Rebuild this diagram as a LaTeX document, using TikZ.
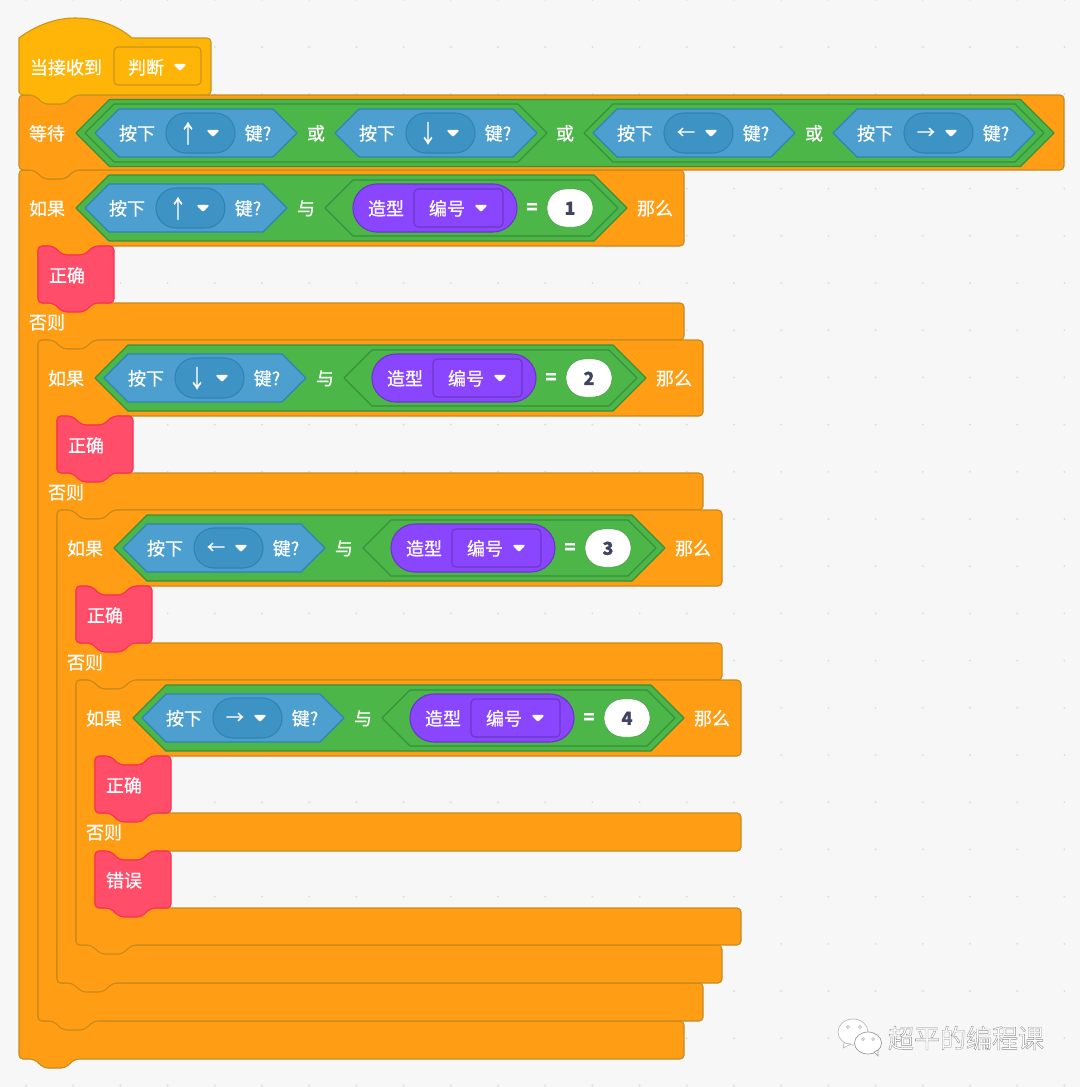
\documentclass[tikz,border=0pt]{standalone}
\usepackage{fontspec}
\usepackage{graphicx}
\newfontfamily\cjkf{Noto Sans CJK SC}[FakeBold=0.6]
\newfontfamily\cjkplain{Noto Sans CJK SC}
\definecolor{bgc}{HTML}{F7F7F7}
\definecolor{dotc}{HTML}{DEDEDE}
\definecolor{ctrl}{HTML}{FF9E14}
\definecolor{ctrlS}{HTML}{C98A1C}
\definecolor{hatc}{HTML}{FFB508}
\definecolor{hatS}{HTML}{C8961A}
\definecolor{pinkc}{HTML}{FF4D6A}
\definecolor{pinkS}{HTML}{FF2E52}
\definecolor{opc}{HTML}{4CB648}
\definecolor{opS}{HTML}{36913A}
\definecolor{senc}{HTML}{4C9FCF}
\definecolor{senS}{HTML}{2E84B4}
\definecolor{pilc}{HTML}{3D93C4}
\definecolor{purc}{HTML}{8A45FF}
\definecolor{purS}{HTML}{6A38C4}
\definecolor{purD}{HTML}{8A45FF}
\definecolor{numc}{HTML}{3F4560}
\tikzset{
  lbl/.style={text=white,inner sep=0pt,yshift=-0.3pt,font=\cjkf\fontsize{18}{18}\selectfont},
  numlbl/.style={text=numc,inner sep=0pt,yshift=-0.3pt,font=\cjkf\bfseries\fontsize{18}{18}\selectfont},
  ctrlblock/.style={fill=ctrl,draw=ctrlS,line width=1.1pt,rounded corners=4pt},
  hatblock/.style={fill=hatc,draw=hatS,line width=1.1pt,rounded corners=4pt},
  pinkblock/.style={fill=pinkc,draw=pinkS,line width=1.1pt,rounded corners=4pt},
  opshape/.style={fill=opc,draw=opS,line width=1.2pt,line join=round},
  senshape/.style={fill=senc,draw=senS,line width=1.1pt,line join=round},
  pillshape/.style={fill=pilc,draw=senS,line width=1.1pt,rounded corners=19.9pt},
  purshape/.style={fill=purc,draw=purS,line width=1.1pt,rounded corners=23.9pt},
  purdrop/.style={fill=purD,draw=purS,line width=1.1pt,rounded corners=4pt},
  whitepill/.style={fill=white,draw=opS,line width=0.4pt,rounded corners=18.9pt},
  caretshape/.style={fill=white,draw=white,line width=2pt,line join=round},
}
\newcommand{\tallarrow}[1]{\scalebox{1}[1.35]{#1}}
% notch, travelling right to left, base x #1, level y #2
\newcommand{\nrl}[2]{-- ({#1+56},#2) -- ({#1+46},{#2+9}) -- ({#1+25},{#2+9}) -- ({#1+15},#2)}
% notch, travelling left to right
\newcommand{\nlr}[2]{-- ({#1+15},#2) -- ({#1+25},{#2+9}) -- ({#1+46},{#2+9}) -- ({#1+56},#2)}
% if/else C block: x, right, y0..y5
\newcommand{\cblock}[8]{%
  \draw[ctrlblock] (#1,#3) \nlr{#1}{#3} -- (#2,#3) -- (#2,#4) \nrl{#1+19}{#4} -- ({#1+19},#4)
    -- ({#1+19},#5) -- (#2,#5) -- (#2,#6) \nrl{#1+19}{#6} -- ({#1+19},#6)
    -- ({#1+19},#7) -- (#2,#7) -- (#2,#8) \nrl{#1}{#8} -- (#1,#8) -- cycle;}
% stack block: x, y
\newcommand{\pinkb}[2]{%
  \draw[pinkblock] (#1,#2) \nlr{#1}{#2} -- ({#1+76},#2) -- ({#1+76},{#2+57}) \nrl{#1}{#2+57} -- (#1,{#2+57}) -- cycle;}
% hexagon: left, right, centre y, half height, style
\newcommand{\hexa}[5]{%
  \draw[#5] (#1,#3) -- ({#1+#4},{#3-#4}) -- ({#2-#4},{#3-#4}) -- (#2,#3) -- ({#2-#4},{#3+#4}) -- ({#1+#4},{#3+#4}) -- cycle;}
% caret at centre x,y
\newcommand{\caret}[2]{%
  \draw[caretshape] ({#1-4.6},{#2-2.2}) -- ({#1+4.6},{#2-2.2}) -- (#1,{#2+2.4}) -- cycle;}
% key sensing block: left x, centre y, arrow, name
\newcommand{\keyb}[4]{%
  \hexa{#1}{#1+202}{#2}{24}{senshape}
  \draw[pillshape] ({#1+71},{#2-20}) rectangle ({#1+140},{#2+20});
  \node[lbl] (#4a) at ({#1+42},#2) {按下};
  \node[lbl] (#4b) at ({#1+93},#2) {#3};
  \caret{#1+118}{#2}
  \node[lbl] (#4c) at ({#1+163},#2) {键?};}
% condition row of an if block: dx, dy, arrow, number
\newcommand{\ifrow}[5]{%
  \node[lbl] (#5if) at ({47+#1},{208+#2}) {如果};
  \hexa{76+#1}{627+#1}{208+#2}{33}{opshape}
  \keyb{85+#1}{208+#2}{#3}{#5k}
  \node[lbl] (#5and) at ({306+#1},{208+#2}) {与};
  \hexa{325+#1}{618+#1}{208+#2}{28}{opshape}
  \draw[purshape] ({353+#1},{184+#2}) rectangle ({517+#1},{232+#2});
  \node[lbl] (#5c) at ({386+#1},{208+#2}) {造型};
  \draw[purdrop] ({414+#1},{189+#2}) rectangle ({503+#1},{227+#2});
  \node[lbl] (#5d) at ({447+#1},{208+#2}) {编号};
  \caret{481+#1}{208+#2}
  \node[lbl,font=\cjkf\bfseries\fontsize{18}{18}\selectfont] (#5eq) at ({532+#1},{208+#2}) {=};
  \draw[whitepill] ({547+#1},{189+#2}) rectangle ({593+#1},{227+#2});
  \node[numlbl] (#5n) at ({570+#1},{208+#2}) {#4};
  \node[lbl] (#5t) at ({655+#1},{208+#2}) {那么};}
\begin{document}
\begin{tikzpicture}[x=1pt,y=-1pt]
\useasboundingbox (0,0) rectangle (1080,1087);
\fill[bgc] (0,0) rectangle (1080,1087);
% grid dots
\foreach \i in {0,...,22} \foreach \j in {0,...,23}
  \fill[dotc] ({26+47.2*\i},{-0.2+47.2*\j}) circle[radius=1.1];
% nested if/else blocks
\cblock{19}{684}{170}{246}{303}{340}{1021}{1059}
\cblock{38}{703}{340}{416}{473}{510}{983}{1021}
\cblock{57}{722}{510}{586}{643}{680}{945}{983}
\cblock{76}{741}{680}{756}{813}{851}{908}{945}
% stack blocks
\pinkb{38}{246}
\pinkb{57}{416}
\pinkb{76}{586}
\pinkb{95}{756}
\pinkb{95}{851}
\node[lbl] (ok1) at (67,275) {正确};
\node[lbl] (ok2) at (86,445) {正确};
\node[lbl] (ok3) at (105,615) {正确};
\node[lbl] (ok4) at (124,785) {正确};
\node[lbl] (err) at (124,880) {错误};
\node[lbl] (else1) at (47,322) {否则};
\node[lbl] (else2) at (66,492) {否则};
\node[lbl] (else3) at (85,662) {否则};
\node[lbl] (else4) at (104,832) {否则};
% conditions
\ifrow{0}{0}{\tallarrow{↑}}{1}{ra}
\ifrow{19}{170}{\tallarrow{↓}}{2}{rb}
\ifrow{38}{340}{←}{3}{rc}
\ifrow{57}{510}{→}{4}{rd}
% wait block
\draw[ctrlblock] (19,95) \nlr{19}{95} -- (1064,95) -- (1064,170) \nrl{19}{170} -- (19,170) -- cycle;
\node[lbl] (wait) at (47,133) {等待};
\hexa{76}{1054}{133}{33.5}{opshape}
\hexa{85}{547}{133}{29}{opshape}
\hexa{584}{1044}{133}{29}{opshape}
\keyb{95}{133}{\tallarrow{↑}}{wa}
\node[lbl] (or1) at (316,133) {或};
\keyb{335}{133}{\tallarrow{↓}}{wb}
\node[lbl] (or2) at (565,133) {或};
\keyb{593}{133}{←}{wc}
\node[lbl] (or3) at (814,133) {或};
\keyb{833}{133}{→}{wd}
% hat block
\draw[hatblock] (19,95) [sharp corners] -- (19,38) .. controls (35,26) and (55,18) .. (75,18) .. controls (97,18) and (117,25) .. (132,38) [rounded corners=4pt] -- (211,38) -- (211,95) \nrl{19}{95} -- (19,95) -- cycle;
\node[lbl] (hat) at (66,67) {当接收到};
\draw[hatblock] (114,47) rectangle (201,85);
\node[lbl] (hatv) at (146,67) {判断};
\caret{180}{67}
% watermark
\draw[fill=white,draw=black!30,line width=0.6pt] (853,1032) ellipse[x radius=15,y radius=13];
\draw[fill=white,draw=black!30,line width=0.6pt] (844,1043) -- (843,1048) -- (851,1044) -- cycle;
\draw[fill=white,draw=black!40,line width=0.7pt] (868,1043) ellipse[x radius=13.5,y radius=11];
\draw[fill=white,draw=black!40,line width=0.7pt] (874,1052) -- (878,1056) -- (878,1050) -- cycle;
\draw[black!35,line width=0.5pt] (848,1027) circle[radius=1.6] (860,1027) circle[radius=1.6] (863,1039) circle[radius=1.4] (873,1039) circle[radius=1.4];
\node[inner sep=0pt,font=\cjkplain\fontsize{26}{26}\selectfont,text=white] (mark) at (966,1038) {\special{pdf:code 2 Tr 0.35 w 0.55 G}超平的编程课\special{pdf:code 0 Tr}};
\end{tikzpicture}
\end{document}
